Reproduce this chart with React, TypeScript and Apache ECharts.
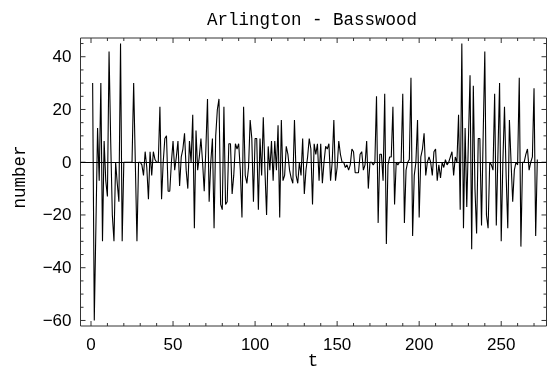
import React, { useEffect, useRef } from "react";
import * as echarts from "echarts";

const chartTitle = "Arlington - Basswood";
const xName = "t";
const yName = "number";

const values: number[] = [
  30, -60, -24, 13, -7, 30, -30, 8, -7, -13,
  42, 8, -20, -30, 0, -8, -15, 45, -30, 0,
  0, 0, 0, 0, 0, 30, 0, -30, 0, 0,
  -1, -5, 4, -2, -14, 4, -5, 4, 1, 0,
  0, 21, -14, 0, 9, 10, -11, -11, 0, 8,
  -3, 2, 8, -9, 2, 5, 11, -3, -10, 8,
  0, 18, -25, 12, -3, 2, 9, 0, -11, 5,
  24, -15, 0, 9, -25, 10, 20, 24, -16, -18,
  21, -16, -15, 7, 7, -12, -5, 7, 5, 7,
  -3, -21, 21, -5, -8, -2, 16, 9, -15, 9,
  9, -18, 9, -5, 17, -3, -20, 6, -3, 8,
  -7, 8, -3, 14, -21, 16, -7, -5, 6, 3,
  -3, -6, -8, 16, -5, -8, 0, -5, 9, -12,
  -3, 2, 9, 5, -16, 7, 3, 7, -7, 7,
  -8, 0, 6, 5, 7, -7, 0, 16, -7, -2,
  8, 3, 0, 0, -2, -1, -3, -1, 5, 4,
  -4, -4, -4, 3, 4, -3, -1, 8, -10, 0,
  0, -1, 0, 25, -23, 3, 3, -7, 26, -31,
  -1, 2, 2, 21, -16, 0, -1, 0, 0, 26,
  -23, -3, 0, 1, 32, -28, -5, 0, 16, -21,
  2, 5, 11, -5, 0, 2, 0, -5, 4, 5,
  -7, -1, -6, 0, -2, 1, -1, 0, 2, 4,
  -5, 2, 0, 18, -18, 45, -25, 13, -17, 8,
  33, -33, 29, -10, -27, 9, 9, -24, 10, 42,
  -20, -25, 0, -1, -3, 26, -24, 3, 30, -30,
  0, 21, -5, -25, 16, 0, -15, -3, 0, -1,
  32, -32, 0, 0, 3, 5, -3, 0, 2, 28,
  -28, 1,
];
const tValues: number[] = values.map((_, i) => i + 1);

const xMajorTicks = [0, 50, 100, 150, 200, 250];
const xMinorTicks = [10, 20, 30, 40, 60, 70, 80, 90, 110, 120, 130, 140, 160, 170, 180, 190, 210, 220, 230, 240, 260, 270];
const yMajorTicks = [-60, -40, -20, 0, 20, 40];
const yMinorTicks = [-55, -50, -45, -35, -30, -25, -15, -10, -5, 5, 10, 15, 25, 30, 35, 45];

const X_MIN = -6.4;
const X_MAX = 277.6;
const Y_MIN = -62.1;
const Y_MAX = 47.1;

const FRAME = "#333";
const MONO = '"Liberation Mono", monospace';
const SANS = '"Liberation Sans", Arial, sans-serif';

export default function App() {
  const ref = useRef<HTMLDivElement>(null);
  useEffect(() => {
    if (!ref.current) return;
    const chart = echarts.init(ref.current, undefined, { renderer: "svg" });
    const lineData = tValues.map((t, i) => [t, values[i]]);
    const xTickData = [
      ...xMajorTicks.map((v) => [v, 0, 1]),
      ...xMinorTicks.map((v) => [v, 0, 0]),
    ];
    const yTickData = [
      ...yMajorTicks.map((v) => [0, v, 1]),
      ...yMinorTicks.map((v) => [0, v, 0]),
    ];
    const tickStyle = { stroke: FRAME, lineWidth: 1 };
    chart.setOption({
      animation: false,
      grid: {
        left: 80.5,
        right: 1.5,
        top: 38,
        bottom: 46,
        show: true,
        borderColor: FRAME,
        borderWidth: 1,
        backgroundColor: "transparent",
      },
      xAxis: {
        type: "value",
        min: X_MIN,
        max: X_MAX,
        axisLine: { show: false },
        axisTick: { show: false },
        splitLine: { show: false },
        axisLabel: {
          customValues: xMajorTicks,
          fontSize: 17,
          fontFamily: SANS,
          color: "#000",
          margin: 10,
        },
      },
      yAxis: {
        type: "value",
        min: Y_MIN,
        max: Y_MAX,
        axisLine: { show: false },
        axisTick: { show: false },
        splitLine: { show: false },
        axisLabel: {
          customValues: yMajorTicks,
          fontSize: 17,
          fontFamily: SANS,
          color: "#000",
          margin: 9,
          formatter: (v: number) => String(v).replace("-", "\u2212"),
        },
      },
      graphic: [
        {
          type: "text",
          x: 312,
          y: 20,
          style: {
            text: chartTitle,
            font: `17.5px ${MONO}`,
            fill: "#000",
            align: "center",
            verticalAlign: "middle",
          },
        },
        {
          type: "text",
          x: 313,
          y: 361,
          style: {
            text: xName,
            font: `17.5px ${MONO}`,
            fill: "#000",
            align: "center",
            verticalAlign: "middle",
          },
        },
        {
          type: "text",
          x: 20,
          y: 177,
          rotation: Math.PI / 2,
          style: {
            text: yName,
            font: `17.5px ${MONO}`,
            fill: "#000",
            align: "center",
            verticalAlign: "middle",
          },
        },
      ],
      series: [
        {
          type: "line",
          data: lineData,
          showSymbol: false,
          symbol: "none",
          lineStyle: { color: "#000", width: 1.1 },
          z: 3,
          markLine: {
            silent: true,
            symbol: "none",
            label: { show: false },
            lineStyle: { color: "#000", width: 1, type: "solid" },
            data: [{ yAxis: 0 }],
          },
        },
        {
          type: "custom",
          silent: true,
          clip: false,
          z: 2,
          data: xTickData,
          renderItem: (params: any, api: any) => {
            const cs = params.coordSys;
            const x = api.coord([api.value(0), 0])[0];
            const len = api.value(2) ? 5 : 3;
            const b = cs.y + cs.height;
            const tp = cs.y;
            return {
              type: "group",
              children: [
                { type: "line", shape: { x1: x, y1: b, x2: x, y2: b - len }, style: tickStyle },
                { type: "line", shape: { x1: x, y1: tp, x2: x, y2: tp + len }, style: tickStyle },
              ],
            };
          },
        },
        {
          type: "custom",
          silent: true,
          clip: false,
          z: 2,
          data: yTickData,
          renderItem: (params: any, api: any) => {
            const cs = params.coordSys;
            const y = api.coord([0, api.value(1)])[1];
            const len = api.value(2) ? 5 : 3;
            const l = cs.x;
            const r = cs.x + cs.width;
            return {
              type: "group",
              children: [
                { type: "line", shape: { x1: l, y1: y, x2: l + len, y2: y }, style: tickStyle },
                { type: "line", shape: { x1: r, y1: y, x2: r - len, y2: y }, style: tickStyle },
              ],
            };
          },
        },
      ],
    });
    return () => chart.dispose();
  }, []);
  return (
    <div
      ref={ref}
      style={{ position: "fixed", left: 0, top: 0, width: 548, height: 372 }}
    />
  );
}
